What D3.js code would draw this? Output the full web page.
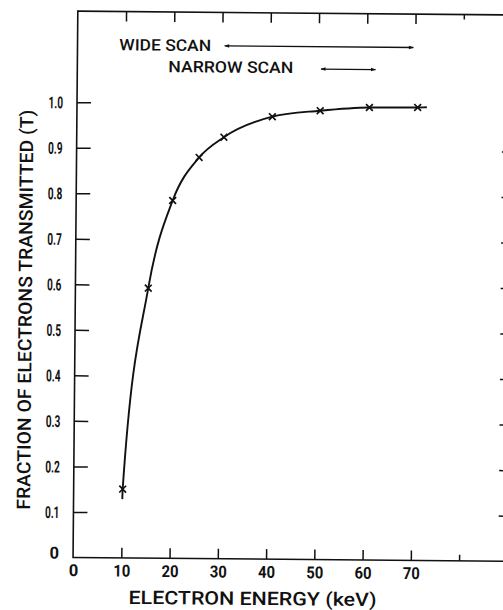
<!DOCTYPE html>
<html>
<head>
<meta charset="utf-8">
<script src="https://cdn.jsdelivr.net/npm/d3@7"></script>
<style>
  html, body { margin: 0; padding: 0; background: #fff; }
  svg { display: block; }
  text { font-family: Roboto, "DejaVu Sans Condensed", "DejaVu Sans", sans-serif; font-weight: 500; fill: #111; }
  .tick text { font-weight: 700; }
</style>
</head>
<body>
<script>
// Measured transmission points (electron energy in keV, fraction transmitted)
const energy      = [10.16, 15.1, 20.0, 25.4, 30.5, 40.5, 50.4, 60.6, 70.6];
const transmitted = [0.151, 0.593, 0.786, 0.881, 0.926, 0.972, 0.986, 0.994, 0.995];

// Ends of the smooth curve drawn through the points
const curveStart = [10.1, 0.129];
const curveEnd   = [72.5, 0.9955];

// Scan ranges (keV)
const scanNames  = ["WIDE SCAN", "NARROW SCAN"];
const scanFrom   = [30.5, 50.5];
const scanTo     = [69.6, 61.8];

// Axes
const xTicks      = [0, 10, 20, 30, 40, 50, 60, 70, 80];
const xTickLabels = ["0", "10", "20", "30", "40", "50", "60", "70", ""];
const yTicks      = [0, 0.1, 0.2, 0.3, 0.4, 0.5, 0.6, 0.7, 0.8, 0.9, 1.0];
const yTickLabels = ["0", "0.1", "0.2", "0.3", "0.4", "0.5", "0.6", "0.7", "0.8", "0.9", "1.0"];
const xTitle = "ELECTRON ENERGY (keV)";
const yTitle = "FRACTION OF ELECTRONS TRANSMITTED (T)";

const W = 503, H = 610;
const svg = d3.select("body").append("svg").attr("width", W).attr("height", H);

// the whole figure sits slightly turned on the page
const g = svg.append("g").attr("transform", "rotate(0.5, 288, 300)");

const x = d3.scaleLinear().domain([0, 90]).range([75.3, 509.6]);
const y = d3.scaleLinear().domain([0, 1.2]).range([559.3, 13.0]);

const ink = "#111";

// frame
g.append("rect")
  .attr("x", x(0)).attr("y", y(1.2))
  .attr("width", x(90) - x(0)).attr("height", y(0) - y(1.2))
  .attr("fill", "none").attr("stroke", ink).attr("stroke-width", 1.6);

// bottom axis with inward ticks
const xAxis = g.append("g").attr("transform", `translate(0,${y(0)})`)
  .call(d3.axisBottom(x).tickValues(xTicks).tickSize(-10).tickPadding(7)
        .tickFormat((d, i) => xTickLabels[i]));
xAxis.select(".domain").remove();
xAxis.selectAll(".tick line").attr("stroke", ink).attr("stroke-width", 1.5)
  .filter(d => d === 80).attr("y2", -6);
xAxis.selectAll(".tick line").filter(d => d === 0).remove();
xAxis.selectAll(".tick text").attr("font-size", 16.5).attr("fill", ink)
  .each(function() { if (this.textContent.length === 2) d3.select(this).attr("textLength", 17).attr("lengthAdjust", "spacingAndGlyphs"); });

// top axis ticks
const xTop = g.append("g").attr("transform", `translate(0,${y(1.2)})`)
  .call(d3.axisTop(x).tickValues(xTicks.filter(d => d > 0)).tickSize(-10).tickFormat(""));
xTop.select(".domain").remove();
xTop.selectAll(".tick line").attr("stroke", ink).attr("stroke-width", 1.5)
  .filter(d => d === 80).attr("y2", 5);

// left axis
const yAxis = g.append("g").attr("transform", `translate(${x(0)},0)`)
  .call(d3.axisLeft(y).tickValues(yTicks).tickSize(-14).tickPadding(14)
        .tickFormat((d, i) => yTickLabels[i]));
yAxis.select(".domain").remove();
yAxis.selectAll(".tick line").attr("stroke", ink).attr("stroke-width", 1.5);
yAxis.selectAll(".tick line").filter(d => d === 0).remove();
yAxis.selectAll(".tick text").attr("font-size", 16.5).attr("fill", ink)
  .attr("dy", d => d === 0 ? "0.05em" : "0.35em")
  .each(function() { if (this.textContent.length === 3) d3.select(this).attr("textLength", 14.5).attr("lengthAdjust", "spacingAndGlyphs"); });

// right axis ticks (0.1 to 0.9)
const yRight = g.append("g").attr("transform", `translate(${x(90)},0)`)
  .call(d3.axisRight(y).tickValues(yTicks.filter(d => d > 0 && d < 1)).tickSize(-9).tickFormat(""));
yRight.select(".domain").remove();
yRight.selectAll(".tick line").attr("stroke", ink).attr("stroke-width", 1.5);

// axis titles
g.append("text")
  .attr("x", 255.2).attr("y", 605.3)
  .attr("text-anchor", "middle").attr("font-size", 18.7)
  .attr("textLength", 248).attr("lengthAdjust", "spacingAndGlyphs")
  .text(xTitle);

g.append("text")
  .attr("transform", "translate(31.8,312) rotate(-90)")
  .attr("text-anchor", "middle").attr("font-size", 18.7)
  .attr("textLength", 400).attr("lengthAdjust", "spacingAndGlyphs")
  .text(yTitle);

// scan range labels and arrows
const defs = svg.append("defs");
defs.append("marker").attr("id", "ah").attr("viewBox", "0 0 10 10")
  .attr("refX", 9).attr("refY", 5).attr("markerWidth", 6).attr("markerHeight", 5)
  .attr("markerUnits", "userSpaceOnUse").attr("orient", "auto-start-reverse")
  .append("path").attr("d", "M0,1.5 L10,5 L0,8.5 Z").attr("fill", ink);

const scanLabelPos = [[163, 51.8, 91.7], [228.8, 73.2, 125]];
const scanArrowY = [46.4, 68.8];
scanNames.forEach((name, i) => {
  g.append("text")
    .attr("x", scanLabelPos[i][0]).attr("y", scanLabelPos[i][1])
    .attr("text-anchor", "middle").attr("font-size", 16)
    .attr("textLength", scanLabelPos[i][2]).attr("lengthAdjust", "spacingAndGlyphs")
    .text(name);
  g.append("line")
    .attr("x1", x(scanFrom[i])).attr("x2", x(scanTo[i]))
    .attr("y1", scanArrowY[i]).attr("y2", scanArrowY[i])
    .attr("stroke", ink).attr("stroke-width", 1.3)
    .attr("marker-start", "url(#ah)").attr("marker-end", "url(#ah)");
});

// smooth transmission curve
const pts = energy.map((e, i) => [e, transmitted[i]]);
const curvePts = [curveStart, ...pts, curveEnd];
g.append("path")
  .datum(curvePts)
  .attr("fill", "none").attr("stroke", ink).attr("stroke-width", 1.9)
  .attr("d", d3.line().x(d => x(d[0])).y(d => y(d[1])).curve(d3.curveMonotoneX));

// data markers (x crosses)
const s = 3.4;
g.append("g").selectAll("path").data(pts).join("path")
  .attr("transform", d => `translate(${x(d[0])},${y(d[1])})`)
  .attr("d", `M${-s},${-s}L${s},${s}M${-s},${s}L${s},${-s}`)
  .attr("stroke", ink).attr("stroke-width", 1.7).attr("fill", "none");
</script>
</body>
</html>
